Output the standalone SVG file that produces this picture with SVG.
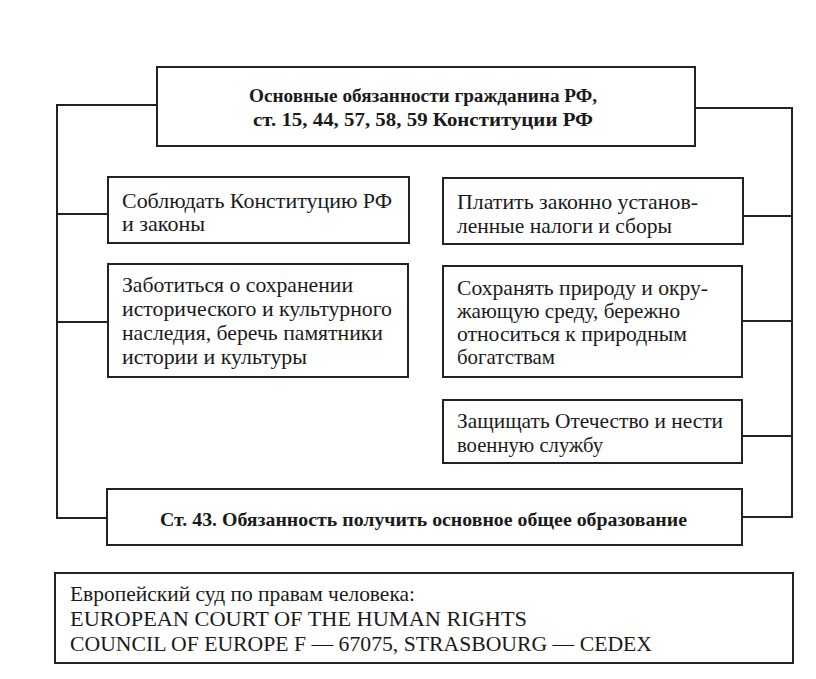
<svg xmlns="http://www.w3.org/2000/svg" width="816" height="679" viewBox="0 0 816 679">
<style>
.box{fill:#fff;stroke:#222;stroke-width:2}
.con{fill:none;stroke:#222;stroke-width:2}
.t{font-family:"Liberation Serif","Times New Roman",serif;font-size:21px;fill:#1a1a1a}
.b{font-family:"Liberation Serif","Times New Roman",serif;font-size:18px;font-weight:bold;fill:#1a1a1a}
.s{font-family:"Liberation Serif","Times New Roman",serif;font-size:21px;fill:#1a1a1a}
</style>
<rect width="816" height="679" fill="#fff"/>
<g id="connectors">
<polyline class="con" points="157,105 57,105 57,518 107,518"/>
<line class="con" x1="57" y1="214" x2="108" y2="214"/>
<line class="con" x1="57" y1="322" x2="108" y2="322"/>
<polyline class="con" points="695,108 792,108 792,517 742,517"/>
<line class="con" x1="743" y1="216" x2="792" y2="216"/>
<line class="con" x1="742" y1="321" x2="792" y2="321"/>
<line class="con" x1="742" y1="436" x2="792" y2="436"/>
</g>
<g id="main">
<rect class="box" x="157" y="67" width="538" height="79"/>
<text class="b" x="249" y="102" textLength="348" lengthAdjust="spacingAndGlyphs">Основные обязанности гражданина РФ,</text>
<text class="b" x="253" y="126" textLength="340" lengthAdjust="spacingAndGlyphs">ст. 15, 44, 57, 58, 59 Конституции РФ</text>
</g>
<g id="n1">
<rect class="box" x="108" y="177" width="301" height="66"/>
<text class="t" x="122" y="208" textLength="270" lengthAdjust="spacingAndGlyphs">Соблюдать Конституцию РФ</text>
<text class="t" x="122" y="231" textLength="83" lengthAdjust="spacingAndGlyphs">и законы</text>
</g>
<g id="n2">
<rect class="box" x="443" y="178" width="300" height="66"/>
<text class="t" x="457" y="209" textLength="241" lengthAdjust="spacingAndGlyphs">Платить законно установ-</text>
<text class="t" x="457" y="233" textLength="215" lengthAdjust="spacingAndGlyphs">ленные налоги и сборы</text>
</g>
<g id="n3">
<rect class="box" x="108" y="264" width="300" height="113"/>
<text class="t" x="122" y="292" textLength="231" lengthAdjust="spacingAndGlyphs">Заботиться о сохранении</text>
<text class="t" x="122" y="316" textLength="270" lengthAdjust="spacingAndGlyphs">исторического и культурного</text>
<text class="t" x="122" y="340" textLength="261" lengthAdjust="spacingAndGlyphs">наследия, беречь памятники</text>
<text class="t" x="122" y="364" textLength="185" lengthAdjust="spacingAndGlyphs">истории и культуры</text>
</g>
<g id="n4">
<rect class="box" x="443" y="266" width="299" height="111"/>
<text class="t" x="457" y="295" textLength="251" lengthAdjust="spacingAndGlyphs">Сохранять природу и окру-</text>
<text class="t" x="457" y="318" textLength="223" lengthAdjust="spacingAndGlyphs">жающую среду, бережно</text>
<text class="t" x="457" y="341" textLength="230" lengthAdjust="spacingAndGlyphs">относиться к природным</text>
<text class="t" x="457" y="364" textLength="98" lengthAdjust="spacingAndGlyphs">богатствам</text>
</g>
<g id="n5">
<rect class="box" x="443" y="400" width="299" height="63"/>
<text class="t" x="457" y="428" textLength="266" lengthAdjust="spacingAndGlyphs">Защищать Отечество и нести</text>
<text class="t" x="457" y="452" textLength="146" lengthAdjust="spacingAndGlyphs">военную службу</text>
</g>
<g id="n6">
<rect class="box" x="107" y="489" width="635" height="56"/>
<text class="b" x="160" y="526" textLength="527" lengthAdjust="spacingAndGlyphs">Ст. 43. Обязанность получить основное общее образование</text>
</g>
<g id="court">
<rect class="box" x="55" y="573" width="738" height="90"/>
<text class="s" x="70" y="601" textLength="345" lengthAdjust="spacingAndGlyphs">Европейский суд по правам человека:</text>
<text class="s" x="70" y="626" textLength="457" lengthAdjust="spacingAndGlyphs">EUROPEAN COURT OF THE HUMAN RIGHTS</text>
<text class="s" x="70" y="651" textLength="582" lengthAdjust="spacingAndGlyphs">COUNCIL OF EUROPE F — 67075, STRASBOURG — CEDEX</text>
</g>
</svg>
